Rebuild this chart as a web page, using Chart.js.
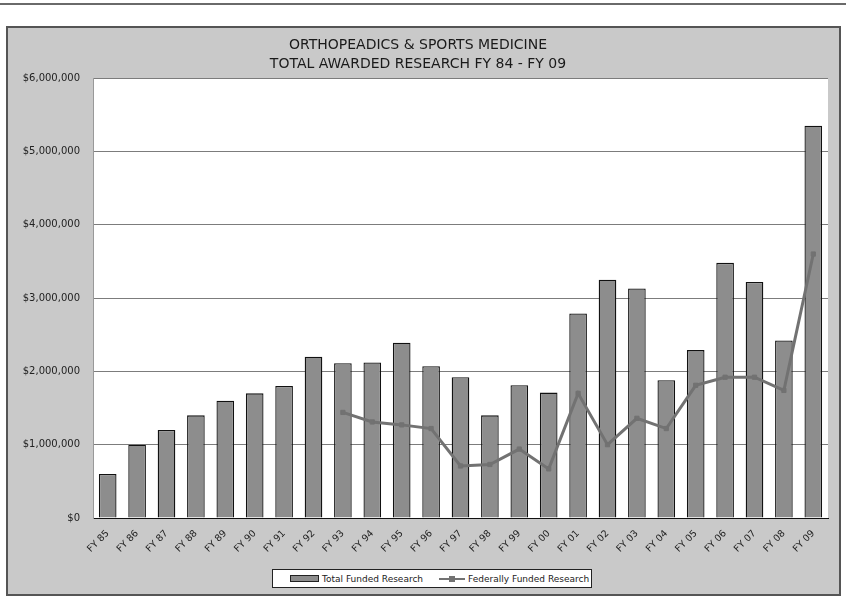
<!DOCTYPE html>
<html>
<head>
<meta charset="utf-8">
<title>Orthopeadics & Sports Medicine - Total Awarded Research</title>
<script src="https://cdn.jsdelivr.net/npm/chart.js@4.4.1/dist/chart.umd.min.js"></script>
<style>
  html, body { margin: 0; padding: 0; background: #fff; }
  #wrap { position: relative; width: 846px; height: 598px; }
  #legend {
    position: absolute; left: 272px; top: 569px; width: 318px; height: 17px;
    background: #fff; border: 1px solid #222;
    font: 9px "DejaVu Sans", sans-serif; color: #222; white-space: nowrap;
    display: flex; align-items: center; box-sizing: content-box;
  }
  #legend .item { display: flex; align-items: center; margin-left: 17px; }
  #legend .item + .item { margin-left: 16px; }
  #legend .bar { width: 27px; height: 5px; border: 1px solid #222; margin-right: 3px; }
  #legend .line { position: relative; width: 26px; height: 2px; margin-right: 3px; }
  #legend .line i { position: absolute; left: 10px; top: -2px; width: 6px; height: 6px; }
</style>
</head>
<body>
<div id="wrap">
  <canvas id="chart" width="846" height="598"></canvas>
  <div id="legend"></div>
</div>
<script>
const years = ['FY 85', 'FY 86', 'FY 87', 'FY 88', 'FY 89', 'FY 90', 'FY 91', 'FY 92', 'FY 93',
  'FY 94', 'FY 95', 'FY 96', 'FY 97', 'FY 98', 'FY 99', 'FY 00', 'FY 01', 'FY 02', 'FY 03',
  'FY 04', 'FY 05', 'FY 06', 'FY 07', 'FY 08', 'FY 09'];

const totalFunded = [600000, 1000000, 1200000, 1400000, 1600000, 1700000, 1800000, 2200000, 2110000,
  2120000, 2390000, 2070000, 1920000, 1400000, 1810000, 1710000, 2790000, 3250000, 3130000,
  1880000, 2290000, 3480000, 3220000, 2420000, 5350000];

// federal figures only start in FY 93
const federallyFunded = [null, null, null, null, null, null, null, null, 1440000,
  1310000, 1270000, 1220000, 710000, 730000, 940000, 670000, 1700000, 1000000, 1360000,
  1220000, 1810000, 1920000, 1920000, 1740000, 3600000];

const titleLines = ['ORTHOPEADICS & SPORTS MEDICINE', 'TOTAL AWARDED RESEARCH FY 84 - FY 09'];
const yMax = 6000000;
const yStep = 1000000;

const barGray = '#8d8d8d';
const lineGray = '#727272';
const fontFamily = '"DejaVu Sans", sans-serif';

// gray frame behind everything, white plot area
const framePlugin = {
  id: 'frame',
  beforeDraw(chart) {
    const { ctx, chartArea: a } = chart;
    ctx.save();
    ctx.fillStyle = '#fff';
    ctx.fillRect(0, 0, chart.width, chart.height);
    ctx.fillStyle = '#6a6a6a';
    ctx.fillRect(0, 3, chart.width, 2);
    ctx.fillStyle = '#c9c9c9';
    ctx.fillRect(7, 27, 833, 568);
    ctx.strokeStyle = '#555';
    ctx.lineWidth = 2;
    ctx.strokeRect(7, 27, 833, 568);
    ctx.fillStyle = '#fff';
    ctx.fillRect(a.left, a.top, a.right - a.left, a.bottom - a.top);
    ctx.restore();
  }
};

const chart = new Chart(document.getElementById('chart'), {
  data: {
    labels: years,
    datasets: [
      {
        type: 'line',
        label: 'Federally Funded Research',
        data: federallyFunded,
        borderColor: lineGray,
        backgroundColor: lineGray,
        borderWidth: 3,
        pointStyle: 'rect',
        pointRadius: 3,
        pointBorderWidth: 1,
        tension: 0,
        order: 0
      },
      {
        type: 'bar',
        label: 'Total Funded Research',
        data: totalFunded,
        backgroundColor: barGray,
        borderColor: '#111',
        borderWidth: 1.3,
        borderSkipped: 'bottom',
        barPercentage: 0.6,
        categoryPercentage: 1,
        order: 1
      }
    ]
  },
  options: {
    responsive: false,
    animation: false,
    layout: { padding: { left: 8, right: 18, top: 29, bottom: 0 } },
    plugins: {
      legend: { display: false },
      tooltip: { enabled: false },
      title: {
        display: true,
        text: titleLines,
        color: '#1a1a1a',
        font: { family: fontFamily, size: 14, weight: 'normal', lineHeight: 1.36 },
        padding: { top: 7, bottom: 4 }
      }
    },
    scales: {
      x: {
        grid: { display: false },
        border: { color: '#111', width: 1 },
        ticks: {
          color: '#222',
          font: { family: fontFamily, size: 9.5 },
          minRotation: 45,
          maxRotation: 45,
          padding: 2
        },
        afterFit(scale) { scale.height = 80; }
      },
      y: {
        min: 0,
        max: yMax,
        grid: { color: '#7c7c7c', drawTicks: false },
        border: { color: '#999' },
        ticks: {
          stepSize: yStep,
          color: '#222',
          padding: 13,
          font: { family: fontFamily, size: 10 },
          callback: v => '$' + v.toLocaleString('en-US')
        },
        afterFit(scale) { scale.width = 85; }
      }
    }
  },
  plugins: [framePlugin]
});

// legend box under the axis, bar item first
const legendEl = document.getElementById('legend');
chart.data.datasets.slice().reverse().forEach(ds => {
  const item = document.createElement('div');
  item.className = 'item';
  if (ds.type === 'bar') {
    item.innerHTML = '<span class="bar" style="background:' + ds.backgroundColor + '"></span>';
  } else {
    item.innerHTML = '<span class="line" style="background:' + ds.borderColor + '"><i style="background:' +
      ds.backgroundColor + '"></i></span>';
  }
  item.appendChild(document.createTextNode(ds.label));
  legendEl.appendChild(item);
});
</script>
</body>
</html>
